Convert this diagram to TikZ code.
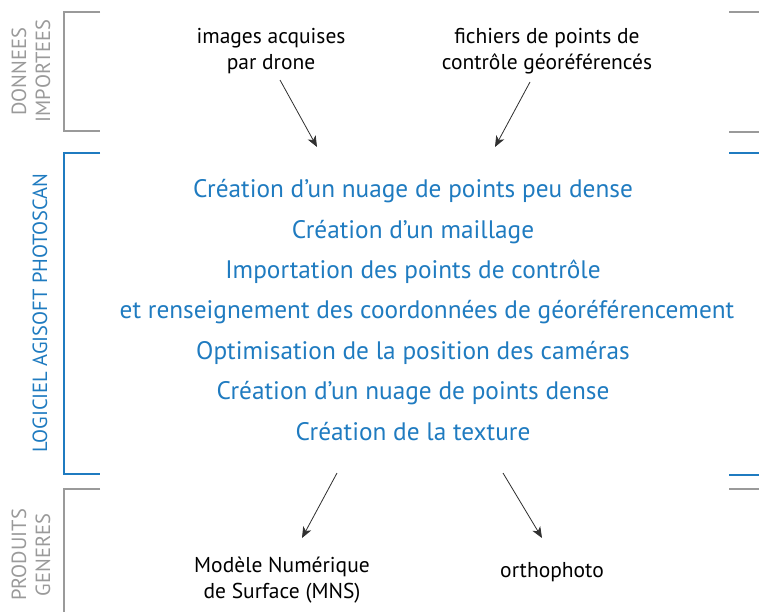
\documentclass[tikz,border=0pt]{standalone}
\usepackage{fontspec}
\setmainfont{PT Sans}
\usetikzlibrary{arrows.meta}
\definecolor{pblue}{HTML}{1F7BC0}
\definecolor{pgray}{HTML}{9A9A9A}
\definecolor{parrow}{HTML}{303030}
\tikzset{
  bracketgray/.style={draw=pgray, line width=1.6pt},
  bracketblue/.style={draw=pblue, line width=1.6pt},
  sidelabel/.style={rotate=90, text=pgray, font=\fontsize{20.5}{22}\selectfont, inner sep=0pt},
  sidelabelblue/.style={rotate=90, text=pblue, font=\fontsize{20.5}{22}\selectfont, inner sep=0pt},
  steptext/.style={text=pblue, font=\fontsize{25.3}{28}\selectfont, inner sep=0pt, anchor=base},
  datatext/.style={text=black, font=\fontsize{21.5}{25.5}\selectfont, align=center, inner sep=0pt},
  flowarrow/.style={draw=parrow, line width=0.8pt, -{Stealth[length=11pt, width=9pt, inset=3pt]}}
}
\begin{document}
\begin{tikzpicture}[x=1pt, y=-1pt]
\useasboundingbox (0,0) rectangle (759,612);
% brackets
\draw[bracketgray] (100,12) -- (64,12) -- (64,131) -- (100,131);
\draw[bracketgray] (729,12) -- (759,12);
\draw[bracketgray] (729,132) -- (759,132);
\draw[bracketblue] (100,153) -- (64,153) -- (64,474) -- (100,474);
\draw[bracketblue] (729,153) -- (759,153);
\draw[bracketblue] (729,475) -- (759,475);
\draw[bracketgray] (100,489) -- (64,489) -- (64,612);
\draw[bracketgray] (729,489) -- (759,489);
% side labels
\node[sidelabel] (don) at (19,72) {DONNEES};
\node[sidelabel] (imp) at (43,71) {IMPORTEES};
\node[sidelabelblue] (log) at (40,313) {LOGICIEL AGISOFT PHOTOSCAN};
\node[sidelabel] (pro) at (19,555) {PRODUITS};
\node[sidelabel] (gen) at (43,555) {GENERES};
% inputs
\node[datatext] (img) at (271,51) {images acquises\\par drone};
\node[datatext] (gcp) at (547,51) {fichiers de points de\\contrôle géoréférencés};
% steps
\node[steptext] (s1) at (413,197) {Création d’un nuage de points peu dense};
\node[steptext] (s2) at (413,238) {Création d’un maillage};
\node[steptext] (s3) at (413,278) {Importation des points de contrôle};
\node[steptext] (s4) at (427,318) {et renseignement des coordonnées de géoréférencement};
\node[steptext] (s5) at (413,359) {Optimisation de la position des caméras};
\node[steptext] (s6) at (413,399) {Création d’un nuage de points dense};
\node[steptext] (s7) at (413,440) {Création de la texture};
% outputs
\node[datatext] (mns) at (282,580) {Modèle Numérique\\de Surface (MNS)};
\node[datatext] (ortho) at (552,572) {orthophoto};
% arrow endpoints
\coordinate (a1s) at (280,80);
\coordinate (a1e) at (317,147);
\coordinate (a2s) at (530,82);
\coordinate (a2e) at (495,147);
\coordinate (a3s) at (337,473);
\coordinate (a3e) at (302,538);
\coordinate (a4s) at (503,473);
\coordinate (a4e) at (542,538);
\draw[flowarrow] (a1s) -- (a1e);
\draw[flowarrow] (a2s) -- (a2e);
\draw[flowarrow] (a3s) -- (a3e);
\draw[flowarrow] (a4s) -- (a4e);
\end{tikzpicture}
\end{document}
